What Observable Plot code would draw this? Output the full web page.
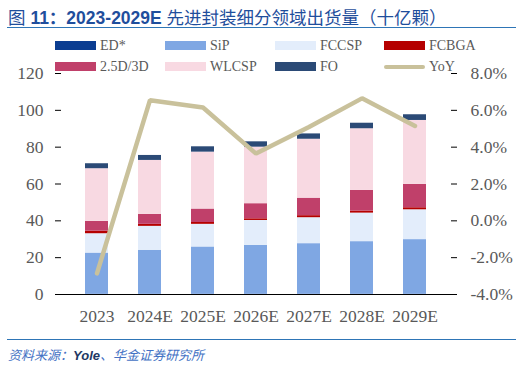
<!DOCTYPE html>
<html>
<head>
<meta charset="utf-8">
<script src="https://cdn.jsdelivr.net/npm/d3@7"></script>
<script src="https://cdn.jsdelivr.net/npm/@observablehq/plot@0.6"></script>
<style>
  html, body { margin: 0; padding: 0; background: #fff; }
  #wrap { position: relative; width: 530px; height: 369px; overflow: hidden; }
  #title { position: absolute; left: 8px; top: 4px; font-family: "Liberation Sans", "Noto Sans CJK SC", sans-serif; font-size: 17.5px; color: #1f4e9c; white-space: nowrap; }
  #title .num { font-weight: bold; }
  .hline { position: absolute; left: 7px; width: 509px; height: 0; border-top: 1.5px solid #2e75b6; }
  #caption { position: absolute; left: 8px; top: 345px; font-family: "Noto Sans CJK SC", sans-serif; font-size: 13px; font-style: italic; color: #4472c4; white-space: nowrap; }
  #caption b { font-family: "Liberation Sans", sans-serif; color: #1f3864; font-weight: bold; }
  #legend { position: absolute; left: 0; top: 0; width: 530px; height: 80px; font-family: "Liberation Serif", serif; font-size: 14px; color: #595959; }
  .li { position: absolute; height: 16px; line-height: 16px; white-space: nowrap; }
  .sw { position: absolute; left: 0; top: 3px; width: 41px; height: 9px; }
  .ln { position: absolute; left: 0; top: 6px; width: 41px; height: 4px; border-radius: 2px; }
  .lt { position: absolute; left: 45px; top: 0; }
  #chart { position: absolute; left: 0; top: 0; font-family: "Liberation Serif", serif; }
</style>
</head>
<body>
<div id="wrap">
  <div id="chart"></div>
  <div id="title">图 <span class="num">11：2023-2029E</span> 先进封装细分领域出货量（十亿颗）</div>
  <div class="hline" style="top:27px"></div>
  <div id="legend"></div>
  <div class="hline" style="top:339px"></div>
  <div id="caption">资料来源：<b>Yole</b>、华金证券研究所</div>
</div>
<script>
const years = ["2023", "2024E", "2025E", "2026E", "2027E", "2028E", "2029E"];
const seriesNames = ["ED*", "SiP", "FCCSP", "FCBGA", "2.5D/3D", "WLCSP", "FO"];
const seriesColors = ["#0b3d91", "#7fa7e3", "#e3edfb", "#b50000", "#c0406a", "#f8d9e2", "#2b4a76"];
const ED = [0.1, 0.1, 0.1, 0.1, 0.1, 0.1, 0.1];
const SiP = [22.4, 23.9, 25.7, 26.6, 27.5, 28.6, 29.7];
const FCCSP = [10.5, 13.0, 12.3, 13.5, 14.1, 15.5, 16.2];
const FCBGA = [1.4, 1.1, 1.0, 0.9, 1.1, 1.1, 1.1];
const D25 = [5.3, 5.4, 7.3, 8.2, 9.5, 11.2, 12.7];
const WLCSP = [28.6, 29.3, 30.9, 30.7, 32.0, 33.5, 34.7];
const FO = [2.7, 2.7, 2.9, 2.9, 2.9, 3.0, 3.1];
const YoY = [-2.85, 6.55, 6.15, 3.65, 5.1, 6.65, 5.15];
const yTicks = [0, 20, 40, 60, 80, 100, 120];
const yoyTicks = [-4, -2, 0, 2, 4, 6, 8];
const yoyColor = "#c9c19b";

const seriesValues = [ED, SiP, FCCSP, FCBGA, D25, WLCSP, FO];
const rows = [];
years.forEach((yr, i) => {
  seriesNames.forEach((s, j) => rows.push({year: yr, series: s, value: seriesValues[j][i]}));
});
const yoyRows = years.map((yr, i) => ({year: yr, yoy: YoY[i]}));
// map YoY (%) onto left scale: -4% -> 0, 8% -> 120
const toLeft = p => (p + 4) * 10;

const serif = "Liberation Serif";
const chart = Plot.plot({
  width: 530,
  height: 369,
  marginLeft: 55,
  marginRight: 74,
  marginTop: 73,
  marginBottom: 75,
  style: {fontFamily: serif, fontSize: "17.5px", color: "#595959", background: "transparent"},
  x: {domain: years, padding: 0.56, label: null},
  y: {domain: [0, 120], label: null},
  color: {domain: seriesNames, range: seriesColors},
  marks: [
    Plot.barY(rows, {x: "year", y: "value", fill: "series", order: seriesNames}),
    Plot.line(yoyRows, {x: "year", y: d => toLeft(d.yoy), stroke: yoyColor, strokeWidth: 4.5, strokeLinejoin: "miter"}),
    Plot.ruleY([0], {stroke: "#000", strokeWidth: 1.2}),
    Plot.axisY({anchor: "left", ticks: yTicks, tickSize: -6, tickPadding: 18, line: true, stroke: "#000", fill: "#595959", label: null, fontFamily: serif, fontSize: 17.5}),
    Plot.axisY({anchor: "right", ticks: yoyTicks.map(toLeft), tickFormat: v => (v / 10 - 4).toFixed(1) + "%", tickSize: -6, tickPadding: 20, line: true, stroke: "#000", fill: "#595959", label: null, fontFamily: serif, fontSize: 17.5}),
    Plot.axisX({tickSize: 0, tickPadding: 15, fill: "#595959", label: null, fontFamily: serif, fontSize: 17.5})
  ]
});
chart.querySelectorAll("g, text").forEach(el => {
  el.setAttribute("font-family", serif);
  el.style.fontFamily = "'Liberation Serif', serif";
});
document.getElementById("chart").appendChild(chart);

// legend
const legend = document.getElementById("legend");
const items = seriesNames.map((s, i) => ({name: s, color: seriesColors[i], line: false}));
items.push({name: "YoY", color: yoyColor, line: true});
const colX = [55, 165, 275, 384];
const rowY = [38, 59];
items.forEach((it, i) => {
  const d = document.createElement("div");
  d.className = "li";
  d.style.left = colX[i % 4] + "px";
  d.style.top = rowY[Math.floor(i / 4)] + "px";
  const sw = document.createElement("div");
  sw.className = it.line ? "ln" : "sw";
  sw.style.background = it.color;
  const t = document.createElement("div");
  t.className = "lt";
  t.textContent = it.name;
  d.appendChild(sw); d.appendChild(t);
  legend.appendChild(d);
});
</script>
</body>
</html>
